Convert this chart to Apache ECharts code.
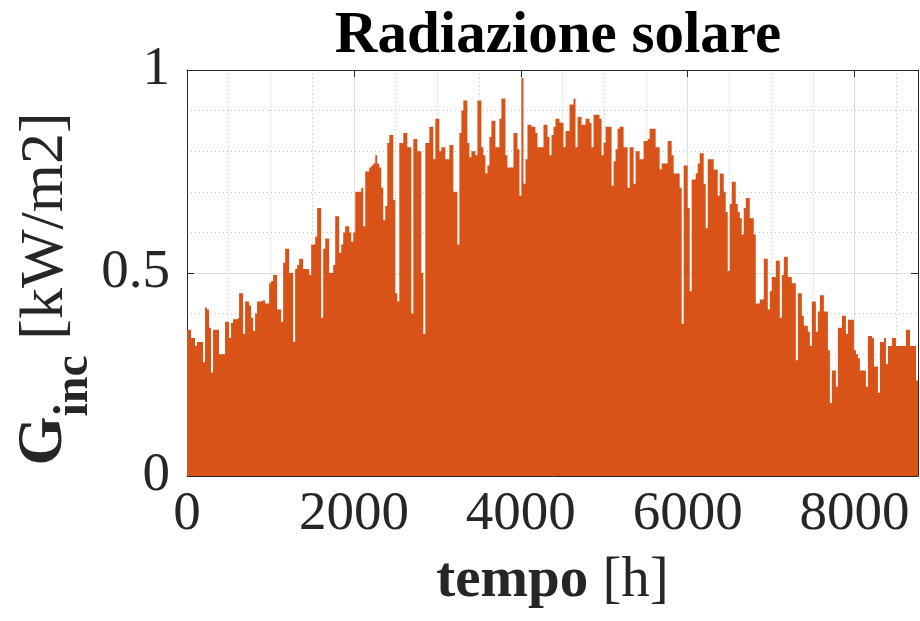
<!DOCTYPE html>
<html>
<head>
<meta charset="utf-8">
<script src="https://cdn.jsdelivr.net/npm/echarts@6/dist/echarts.min.js"></script>
<style>
html,body{margin:0;padding:0;background:#fff;}
#chart{width:920px;height:621px;}
</style>
</head>
<body>
<div id="chart"></div>
<script>
// Daily peak irradiance [kW/m2], one value per day
const q1 = [.36,.36,.34,.34,.32,.33,.33,.33,.28,.415,
  .41,.365,.255,.36,.36,.36,.30,.30,.30,.38,
  .38,.34,.377,.386,.386,.39,.45,.45,.35,.43,
  .43,.42,.39,.357,.40,.43,.43,.432,.432,.425,
  .425,.475,.48,.495,.495,.41,.41,.38,.525,.56,
  .56,.50,.50,.33,.51,.52,.535,.535,.51,.51,
  .51,.495,.57,.57,.59,.66,.66,.39,.56,.585,
  .585,.50,.50,.52,.64,.64,.55,.57,.60,.615,
  .615,.60,.577,.60,.70,.70,.70,.71,.615,.75,
  .75];
const q2 = [.76,.765,.77,.79,.77,.76,.71,.63,.665,
  .82,.84,.84,.68,.45,.43,.82,.82,.845,.845,
  .81,.81,.40,.83,.83,.80,.80,.50,.35,.82,
  .82,.86,.86,.78,.88,.88,.80,.81,.81,.78,
  .78,.815,.815,.70,.70,.57,.845,.90,.925,.925,
  .82,.785,.80,.80,.79,.925,.925,.81,.79,.745,
  .765,.835,.875,.875,.81,.81,.88,.93,.93,.79,
  .76,.76,.76,.845,.845,.805,.69,.98,.72,.78,
  .865,.865,.86,.86,.845,.81,.81,.81,.865,.865,
  .835,.79];
const q3 = [.84,.86,.88,.88,.87,.87,.81,.85,
  .85,.915,.915,.93,.81,.885,.885,.865,.865,.88,
  .88,.87,.81,.89,.89,.89,.88,.79,.82,.86,
  .86,.86,.715,.775,.805,.855,.86,.86,.81,.81,
  .71,.81,.81,.72,.80,.80,.78,.78,.825,.825,
  .83,.855,.855,.855,.81,.81,.755,.77,.77,.77,
  .825,.825,.79,.745,.745,.745,.71,.375,.765,.765,
  .66,.455,.73,.73,.745,.77,.795,.795,.72,.61,
  .78,.78,.78,.755,.755,.69,.745,.745,.70,.65,
  .505,.67,.725];
const q4 = [.725,.67,.65,.635,.595,.66,.685,
  .685,.635,.635,.595,.425,.425,.435,.435,.535,.535,
  .41,.455,.49,.49,.53,.53,.39,.495,.54,.54,
  .49,.49,.475,.475,.285,.45,.45,.395,.37,.37,
  .355,.32,.43,.43,.355,.405,.445,.445,.405,.405,
  .31,.18,.26,.26,.22,.365,.365,.395,.395,.35,
  .385,.385,.385,.31,.30,.29,.26,.26,.26,.22,
  .345,.345,.34,.27,.27,.205,.33,.33,.34,.275,
  .32,.32,.34,.34,.32,.32,.32,.32,.32,.36,
  .36,.32,.32,.32,.235];

const HOURS_PER_DAY = 24;
const X_MAX = 8760;
const X_INTERVAL = 2000;
const X_MINOR = 500;
const Y_MAX = 1;
const Y_INTERVAL = 0.5;

const daily = q1.concat(q2, q3, q4);
const seriesData = daily.map((v, i) => [i * HOURS_PER_DAY, v]);
seriesData.push([X_MAX, daily[daily.length - 1]]);

const FONT = 'Liberation Serif';
const AX = '#262626';

const chart = echarts.init(document.getElementById('chart'), null, {renderer: 'canvas'});
chart.setOption({
  animation: false,
  backgroundColor: '#fff',
  title: {
    text: 'Radiazione solare',
    left: 553, top: 2, textAlign: 'center',
    textStyle: {fontFamily: FONT, fontSize: 59, fontWeight: 'bold', color: '#000'}
  },
  grid: {left: 187, right: 2, top: 70, bottom: 145, containLabel: false},
  xAxis: [
    { // minor dotted grid
      type: 'value', min: 0, max: X_MAX, interval: X_MINOR, position: 'bottom',
      axisLine: {show: false}, axisTick: {show: false}, axisLabel: {show: false},
      splitLine: {show: true, lineStyle: {color: '#c4c4c4', width: 1, type: [1, 3]}}
    },
    {
      type: 'value', min: 0, max: X_MAX, interval: X_INTERVAL, position: 'bottom',
      axisLine: {show: true, onZero: false, lineStyle: {color: AX, width: 1}},
      axisTick: {show: true, inside: true, length: 7, lineStyle: {color: AX}},
      axisLabel: {show: true, fontFamily: FONT, fontSize: 55, color: AX, margin: 11, showMaxLabel: false,
        formatter: v => String(v)},
      splitLine: {show: true, lineStyle: {color: '#dedede', width: 1}},
      name: '{b|tempo}{n| [h]}',
      nameLocation: 'middle', nameGap: 77,
      nameTextStyle: {
        color: AX,
        rich: {
          b: {fontFamily: FONT, fontSize: 57, fontWeight: 'bold', color: AX},
          n: {fontFamily: FONT, fontSize: 57, color: AX}
        }
      }
    },
    {
      type: 'value', min: 0, max: X_MAX, interval: X_INTERVAL, position: 'top',
      axisLine: {show: true, onZero: false, lineStyle: {color: AX, width: 1}},
      axisTick: {show: true, inside: true, length: 7, lineStyle: {color: AX}},
      axisLabel: {show: false}, splitLine: {show: false}
    }
  ],
  yAxis: [
    {
      type: 'value', min: 0, max: Y_MAX, interval: Y_INTERVAL, position: 'left',
      axisLine: {show: true, onZero: false, lineStyle: {color: AX, width: 1}},
      axisTick: {show: true, inside: true, length: 7, lineStyle: {color: AX}},
      axisLabel: {show: true, fontFamily: FONT, fontSize: 55, color: AX, margin: 17,
        formatter: v => String(v)},
      splitLine: {show: true, lineStyle: {color: '#dedede', width: 1}},
      minorTick: {show: false, splitNumber: 5},
      minorSplitLine: {show: true, lineStyle: {color: '#c4c4c4', width: 1, type: [1, 3]}}
    },
    {
      type: 'value', min: 0, max: Y_MAX, interval: Y_INTERVAL, position: 'right',
      axisLine: {show: true, onZero: false, lineStyle: {color: AX, width: 1}},
      axisTick: {show: true, inside: true, length: 7, lineStyle: {color: AX}},
      axisLabel: {show: false}, splitLine: {show: false}
    }
  ],
  graphic: [{
    type: 'text',
    x: 67, y: 289,
    rotation: Math.PI / 2,
    style: {
      text: '{g|G}{s|inc}{r| [kW/m2]}',
      align: 'center', verticalAlign: 'middle',
      rich: {
        g: {fontFamily: FONT, fontSize: 63, fontWeight: 'bold', fill: AX, lineHeight: 63, padding: [0, 0, 22, 0], verticalAlign: 'bottom'},
        s: {fontFamily: FONT, fontSize: 48, fontWeight: 'bold', fill: AX, lineHeight: 48, verticalAlign: 'bottom'},
        r: {fontFamily: FONT, fontSize: 62, fill: AX, lineHeight: 62, padding: [0, 0, 22, 0], verticalAlign: 'bottom'}
      }
    }
  }],
  series: [{
    type: 'line',
    xAxisIndex: 1, yAxisIndex: 0,
    data: seriesData,
    step: 'end',
    showSymbol: false, symbol: 'none',
    lineStyle: {width: 0, color: '#D95319'},
    areaStyle: {color: '#D95319', opacity: 1},
    itemStyle: {color: '#D95319'}
  }]
});
</script>
</body>
</html>
